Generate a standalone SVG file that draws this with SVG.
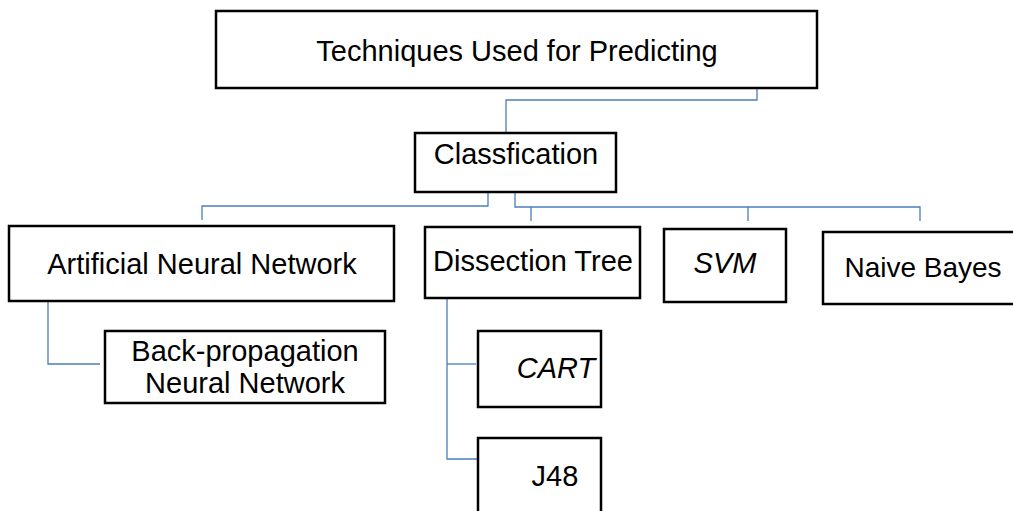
<svg xmlns="http://www.w3.org/2000/svg" width="1013" height="511" viewBox="0 0 1013 511">
<style>
.box{fill:#fff;stroke:#000;stroke-width:2.5}
.t{font-family:"Liberation Sans",Arial,sans-serif;font-size:29px;fill:#000;text-anchor:middle}
.i{font-style:italic}
.c{fill:none;stroke:#4a7ebb;stroke-width:1.3}
</style>
<rect width="1013" height="511" fill="#fff"/>
<g id="connectors">
<polyline class="c" points="757,88 757,100 506,100 506,133"/>
<polyline class="c" points="488,192 488,206 202,206 202,220"/>
<polyline class="c" points="515,192 515,207 920,207 920,221"/>
<line class="c" x1="531" y1="207" x2="531" y2="221"/>
<line class="c" x1="748" y1="207" x2="748" y2="221"/>
<polyline class="c" points="48,301 48,364 100,364"/>
<polyline class="c" points="447,298 447,459 478,459"/>
<line class="c" x1="447" y1="364" x2="476" y2="364"/>
</g>
<g id="n-top"><rect class="box" x="216" y="11" width="601" height="77"/><text class="t" x="517" y="61">Techniques Used for Predicting</text></g>
<g id="n-class"><rect class="box" x="415" y="133" width="201" height="59"/><text class="t" x="516" y="164">Classfication</text></g>
<g id="n-ann"><rect class="box" x="9" y="226" width="385" height="75"/><text class="t" x="202" y="274">Artificial Neural Network</text></g>
<g id="n-dt"><rect class="box" x="425" y="227" width="215" height="71"/><text class="t" x="533" y="271">Dissection Tree</text></g>
<g id="n-svm"><rect class="box" x="664" y="229" width="122" height="73"/><text class="t i" x="725" y="273">SVM</text></g>
<g id="n-nb"><rect class="box" x="823" y="232" width="200" height="72"/><text class="t" x="923" y="277" style="font-size:28px">Naive Bayes</text></g>
<g id="n-bp"><rect class="box" x="105" y="331" width="280" height="72"/><text class="t" x="245" y="361">Back-propagation</text><text class="t" x="245" y="393">Neural Network</text></g>
<g id="n-cart"><rect class="box" x="478" y="331" width="123" height="76"/><text class="t i" x="556" y="378">CART</text></g>
<g id="n-j48"><rect class="box" x="478" y="438" width="123" height="80"/><text class="t" x="555" y="486">J48</text></g>
</svg>
